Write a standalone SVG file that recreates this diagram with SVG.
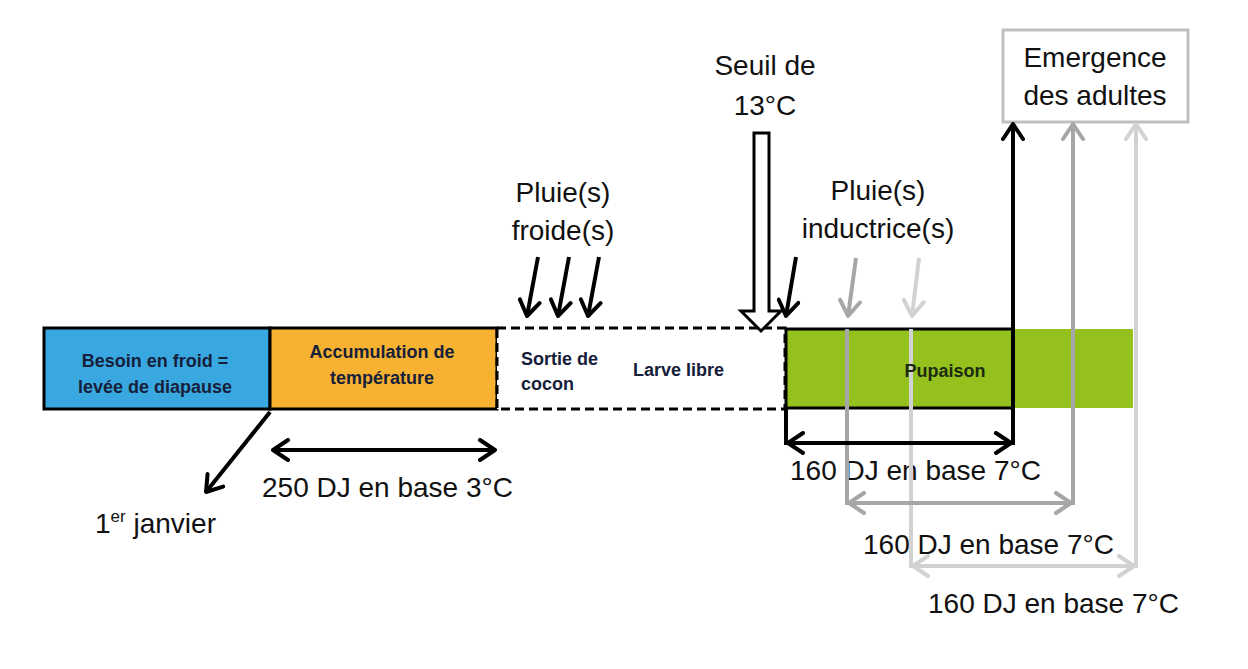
<svg xmlns="http://www.w3.org/2000/svg" width="1248" height="669" viewBox="0 0 1248 669">
<style>
.big{font-family:"Liberation Sans",Arial,sans-serif;font-size:28px;fill:#111}
.bar{font-family:"Liberation Sans",Arial,sans-serif;font-size:18px;font-weight:bold;fill:#16203a}
.k{stroke:#000;fill:none;stroke-width:4}
.g{stroke:#a6a6a6;fill:none;stroke-width:4}
.l{stroke:#d2d2d2;fill:none;stroke-width:4}
</style>
<defs>
<marker id="ak" viewBox="0 0 20 24" refX="18" refY="12" markerWidth="20" markerHeight="24" markerUnits="userSpaceOnUse" orient="auto-start-reverse"><path d="M3,2 L18,12 L3,22" fill="none" stroke="#000" stroke-width="4" stroke-linecap="round" stroke-linejoin="round"/></marker>
<marker id="ag" viewBox="0 0 20 24" refX="18" refY="12" markerWidth="20" markerHeight="24" markerUnits="userSpaceOnUse" orient="auto-start-reverse"><path d="M3,2 L18,12 L3,22" fill="none" stroke="#a6a6a6" stroke-width="4" stroke-linecap="round" stroke-linejoin="round"/></marker>
<marker id="al" viewBox="0 0 20 24" refX="18" refY="12" markerWidth="20" markerHeight="24" markerUnits="userSpaceOnUse" orient="auto-start-reverse"><path d="M3,2 L18,12 L3,22" fill="none" stroke="#d2d2d2" stroke-width="4" stroke-linecap="round" stroke-linejoin="round"/></marker>
</defs>
<rect width="1248" height="669" fill="#fff"/>

<g id="besoin">
<rect x="44" y="328" width="226" height="81" fill="#3aa8e0" stroke="#000" stroke-width="3"/>
<text class="bar" x="155" y="367" text-anchor="middle">Besoin en froid =</text>
<text class="bar" x="155" y="393" text-anchor="middle">levée de diapause</text>
</g>
<g id="accumulation">
<rect x="270" y="328" width="227" height="81" fill="#f8b232" stroke="#000" stroke-width="3"/>
<text class="bar" x="382" y="358" text-anchor="middle">Accumulation de</text>
<text class="bar" x="382" y="384" text-anchor="middle">température</text>
</g>
<g id="larve">
<rect x="497" y="328" width="288" height="81" fill="#fff" stroke="#000" stroke-width="3" stroke-dasharray="9 5"/>
<text class="bar" x="521" y="365">Sortie de</text>
<text class="bar" x="521" y="390">cocon</text>
<text class="bar" x="633" y="376">Larve libre</text>
</g>
<g id="pupaison">
<rect x="786" y="329" width="347" height="79" fill="#95c11f"/>
<path d="M1013,329 L786,329 L786,408 L1013,408" fill="none" stroke="#000" stroke-width="3"/>
</g>
<g id="emergence">
<rect x="1003" y="30" width="185" height="92" fill="#fff" stroke="#bfbfbf" stroke-width="3"/>
<text class="big" x="1095" y="67" text-anchor="middle">Emergence</text>
<text class="big" x="1095" y="105" text-anchor="middle">des adultes</text>
</g>
<g id="seuil">
<text class="big" x="765" y="75" text-anchor="middle">Seuil de</text>
<text class="big" x="765" y="115" text-anchor="middle">13°C</text>
<path d="M754,133 L769,133 L769,311 L781,311 L761,331 L741,311 L754,311 Z" fill="#fff" stroke="#000" stroke-width="3" stroke-linejoin="miter"/>
</g>
<g id="pluie-froide">
<text class="big" x="563" y="202" text-anchor="middle">Pluie(s)</text>
<text class="big" x="563" y="240" text-anchor="middle">froide(s)</text>
</g>
<g id="pluie-inductrice">
<text class="big" x="878" y="200" text-anchor="middle">Pluie(s)</text>
<text class="big" x="878" y="238" text-anchor="middle">inductrice(s)</text>
</g>
<g id="labels">
<text class="big" x="95" y="533">1<tspan font-size="17" dy="-11">er</tspan><tspan dy="11"> janvier</tspan></text>
<text class="big" x="262" y="497">250 DJ en base 3°C</text>
<text class="big" x="790" y="480">160 DJ en base 7°C</text>
<text class="big" x="863" y="554">160 DJ en base 7°C</text>
<text class="big" x="928" y="613">160 DJ en base 7°C</text>
</g>

<g id="connectors">
<path class="k" d="M270,412 L206,492" marker-end="url(#ak)"/>
<path class="k" d="M273,450 L495,450" marker-start="url(#ak)" marker-end="url(#ak)"/>
<path class="k" d="M538,257 L527,316" stroke-width="3.5" marker-end="url(#ak)"/>
<path class="k" d="M569,257 L558,316" stroke-width="3.5" marker-end="url(#ak)"/>
<path class="k" d="M599,257 L588,316" stroke-width="3.5" marker-end="url(#ak)"/>
<path class="k" d="M796,257 L786,316" stroke-width="3.5" marker-end="url(#ak)"/>
<path class="g" d="M856,258 L848,316" stroke-width="3.5" marker-end="url(#ag)"/>
<path class="l" d="M919,258 L912,316" stroke-width="3.5" marker-end="url(#al)"/>

<path class="g" d="M847,329 L847,505"/>
<path class="l" d="M911,329 L911,568"/>

<path class="k" d="M786,408 L786,445"/>
<path class="k" d="M788,443 L1011,443" marker-start="url(#ak)" marker-end="url(#ak)"/>
<path class="k" d="M1013,445 L1013,124" marker-end="url(#ak)"/>

<path class="g" d="M849,503 L1071,503" marker-start="url(#ag)" marker-end="url(#ag)"/>
<path class="g" d="M1073,505 L1073,124" marker-end="url(#ag)"/>

<path class="l" d="M913,566 L1134,566" marker-start="url(#al)" marker-end="url(#al)"/>
<path class="l" d="M1136,568 L1136,124" marker-end="url(#al)"/>
</g>
<g id="pupaison-label">
<text class="bar" x="945" y="377" text-anchor="middle" style="fill:#1c2a10">Pupaison</text>
</g>
</svg>
